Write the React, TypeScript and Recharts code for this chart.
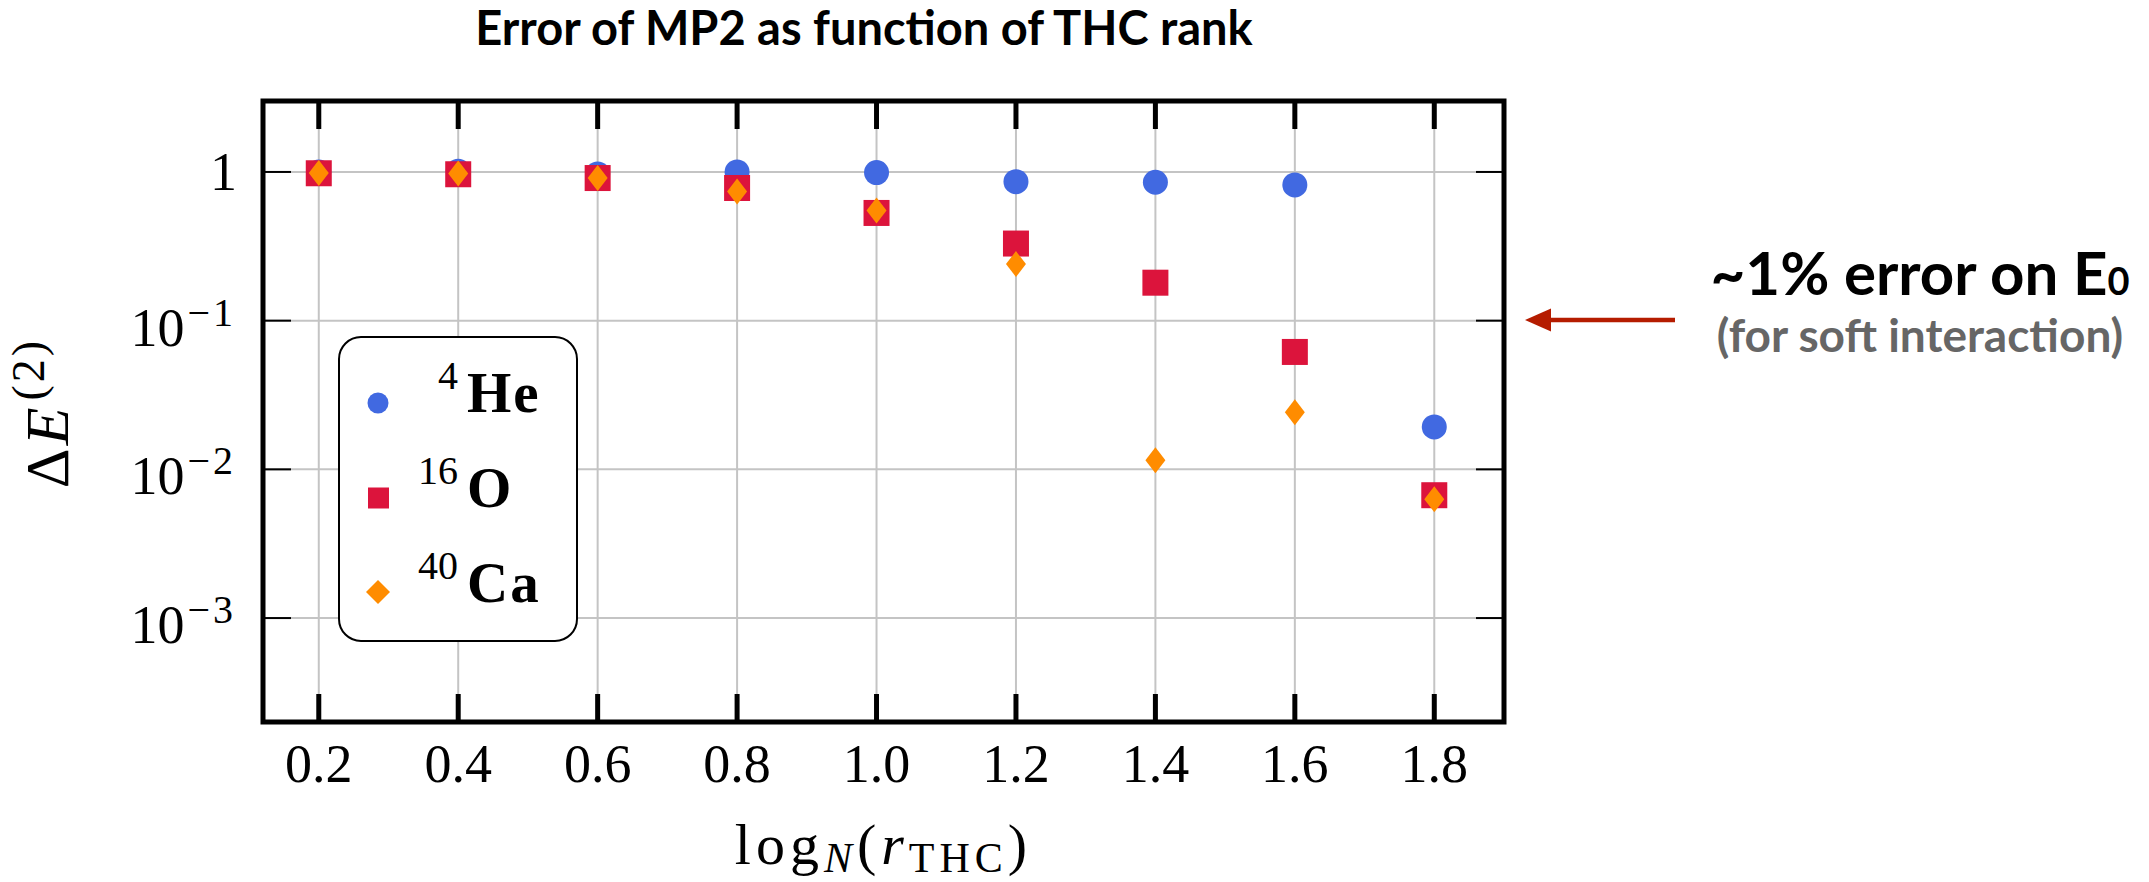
import React from 'react';
import { ScatterChart, Scatter, XAxis, YAxis, CartesianGrid, ReferenceArea, Legend } from 'recharts';

// ---------- data ----------
const rankValues = [0.2, 0.4, 0.6, 0.8, 1.0, 1.2, 1.4, 1.6, 1.8];
const he4Errors = [1.0, 1.01, 0.97, 1.0, 0.99, 0.86, 0.853, 0.818, 0.0193];
const o16Errors = [0.98, 0.965, 0.91, 0.78, 0.53, 0.33, 0.18, 0.0616, 0.0067];
const ca40Errors = [0.985, 0.975, 0.91, 0.74, 0.55, 0.24, 0.0115, 0.0242, 0.0063];

const xTicks = [0.2, 0.4, 0.6, 0.8, 1.0, 1.2, 1.4, 1.6, 1.8];
const yTicks = [0.001, 0.01, 0.1, 1];
const yTickExponents = [-3, -2, -1, 0];
const xDomain = [0.12, 1.9];
const yDomain = [0.0002, 3];

const seriesElements = ['He', 'O', 'Ca'];
const seriesMassNumbers = ['4', '16', '40'];
const seriesColors = ['#4169E1', '#DC143C', '#FF8C00'];

const titleText = 'Error of MP2 as function of THC rank';
const noteMain = '~1% error on E';
const noteSub = '0';
const noteSecond = '(for soft interaction)';

// ---------- layout ----------
const W = 2149;
const H = 882;
const MARGIN = { top: 100, left: 262, right: 644, bottom: 159 };
const MATH = '"Liberation Serif", "Times New Roman", serif';
const SANS = 'Lato, "Open Sans", sans-serif';

const heData = rankValues.map((x, i) => ({ x, y: he4Errors[i] }));
const oData = rankValues.map((x, i) => ({ x, y: o16Errors[i] }));
const caData = rankValues.map((x, i) => ({ x, y: ca40Errors[i] }));

const CircleShape = (p: any) => <circle cx={p.cx} cy={p.cy} r={12.5} fill={seriesColors[0]} />;
const SquareShape = (p: any) => (
  <rect x={p.cx - 13} y={p.cy - 13} width={26} height={26} fill={seriesColors[1]} />
);
const ThinDiamondShape = (p: any) => (
  <polygon
    points={`${p.cx},${p.cy - 13} ${p.cx + 10},${p.cy} ${p.cx},${p.cy + 13} ${p.cx - 10},${p.cy}`}
    fill={seriesColors[2]}
  />
);

const XTickBottom = (p: any) => {
  const { x, y, payload } = p;
  return (
    <g>
      <line x1={x} x2={x} y1={y} y2={y - 28} stroke="#000" strokeWidth={5} />
      <text x={x} y={y + 60} textAnchor="middle" fontFamily={MATH} fontSize={54} fill="#000">
        {Number(payload.value).toFixed(1)}
      </text>
    </g>
  );
};

const XTickTop = (p: any) => {
  const { x, y } = p;
  return <line x1={x} x2={x} y1={y} y2={y + 28} stroke="#000" strokeWidth={5} />;
};

const YTickLeft = (p: any) => {
  const { x, y, payload } = p;
  const idx = yTicks.findIndex((t) => Math.abs(t - payload.value) / t < 1e-6);
  const exp = yTickExponents[idx];
  return (
    <g>
      <line x1={x} x2={x + 28} y1={y} y2={y} stroke="#000" strokeWidth={2} />
      {exp === 0 ? (
        <text x={x - 26} y={y + 18} textAnchor="end" fontFamily={MATH} fontSize={54} fill="#000">
          1
        </text>
      ) : (
        <text x={x - 27} y={y + 25} textAnchor="end" fontFamily={MATH} fontSize={54} fill="#000">
          <tspan>10</tspan>
          <tspan dx={3} dy={-20} fontSize={40} letterSpacing={3}>
            {'\u2212' + String(-exp)}
          </tspan>
        </text>
      )}
    </g>
  );
};

const YTickRight = (p: any) => {
  const { x, y } = p;
  return <line x1={x} x2={x - 28} y1={y} y2={y} stroke="#000" strokeWidth={2} />;
};

const LegendBox = () => {
  const rowY = [67, 162, 256];
  const baseY = [76, 171, 266];
  return (
    <svg width={242} height={308} style={{ display: 'block', overflow: 'visible' }}>
      <rect x={1} y={1} width={238} height={304} rx={22} ry={22} fill="#fff" stroke="#000" strokeWidth={2} />
      <circle cx={40} cy={rowY[0]} r={10.5} fill={seriesColors[0]} />
      <rect x={30} y={rowY[1] - 10.5} width={21} height={21} fill={seriesColors[1]} />
      <polygon
        points={`40,${rowY[2] - 12} 52,${rowY[2]} 40,${rowY[2] + 12} 28,${rowY[2]}`}
        fill={seriesColors[2]}
      />
      {seriesElements.map((el, i) => (
        <g key={el}>
          <text x={120} y={baseY[i] - 23} textAnchor="end" fontFamily={MATH} fontSize={40} fill="#000">
            {seriesMassNumbers[i]}
          </text>
          <text x={129} y={baseY[i]} fontFamily={MATH} fontWeight="bold" fontSize={57} fill="#000" letterSpacing={2}>
            {el}
          </text>
        </g>
      ))}
    </svg>
  );
};

export default function App() {
  return (
    <div style={{ position: 'absolute', left: 0, top: 0, width: W, height: H, background: '#fff' }}>
      <ScatterChart width={W} height={H} margin={MARGIN}>
        <CartesianGrid stroke="#c4c4c4" strokeWidth={2} />
        <XAxis
          type="number"
          dataKey="x"
          domain={xDomain}
          ticks={xTicks}
          allowDataOverflow
          interval={0}
          height={1}
          tickSize={0}
          tickMargin={0}
          axisLine={false}
          tickLine={false}
          tick={(p: any) => <XTickBottom {...p} />}
        />
        <XAxis
          xAxisId="top"
          orientation="top"
          type="number"
          dataKey="x"
          domain={xDomain}
          ticks={xTicks}
          allowDataOverflow
          interval={0}
          height={1}
          tickSize={0}
          tickMargin={0}
          axisLine={false}
          tickLine={false}
          tick={(p: any) => <XTickTop {...p} />}
        />
        <YAxis
          type="number"
          dataKey="y"
          scale="log"
          domain={yDomain}
          ticks={yTicks}
          allowDataOverflow
          interval={0}
          width={1}
          tickSize={0}
          tickMargin={0}
          axisLine={false}
          tickLine={false}
          tick={(p: any) => <YTickLeft {...p} />}
        />
        <YAxis
          yAxisId="right"
          orientation="right"
          type="number"
          dataKey="y"
          scale="log"
          domain={yDomain}
          ticks={yTicks}
          allowDataOverflow
          interval={0}
          width={1}
          tickSize={0}
          tickMargin={0}
          axisLine={false}
          tickLine={false}
          tick={(p: any) => <YTickRight {...p} />}
        />
        <ReferenceArea
          x1={xDomain[0]}
          x2={xDomain[1]}
          y1={yDomain[0]}
          y2={yDomain[1]}
          fill="none"
          fillOpacity={0}
          stroke="#000"
          strokeWidth={5}
          ifOverflow="visible"
        />
        <Scatter name="4He" data={heData} shape={CircleShape} isAnimationActive={false} />
        <Scatter name="16O" data={oData} shape={SquareShape} isAnimationActive={false} />
        <Scatter name="40Ca" data={caData} shape={ThinDiamondShape} isAnimationActive={false} />
        <Legend
          layout="vertical"
          align="center"
          verticalAlign="middle"
          content={() => <LegendBox />}
          wrapperStyle={{ position: 'absolute', left: 338, top: 336, width: 242, height: 308 }}
        />
      </ScatterChart>
      <svg
        width={W}
        height={H}
        style={{ position: 'absolute', left: 0, top: 0, pointerEvents: 'none' }}
      >
        <text x={864} y={45} textAnchor="middle" fontFamily={SANS} fontWeight="bold" fontSize={47} fill="#000">
          {titleText}
        </text>
        <text
          x={68}
          y={413}
          transform="rotate(-90 68 413)"
          textAnchor="middle"
          fontFamily={MATH}
          fontSize={62}
          fill="#000"
          letterSpacing={3}
        >
          <tspan>Δ</tspan>
          <tspan fontStyle="italic">E</tspan>
          <tspan dx={4} dy={-24} fontSize={46}>(2)</tspan>
        </text>
        <text
          x={883.5}
          y={864}
          textAnchor="middle"
          fontFamily={MATH}
          fontSize={58}
          fill="#000"
          letterSpacing={5}
        >
          <tspan>log</tspan>
          <tspan fontStyle="italic" fontSize={42} dy={8}>N</tspan>
          <tspan dy={-8}>(</tspan>
          <tspan fontStyle="italic">r</tspan>
          <tspan fontSize={42} dy={8}>THC</tspan>
          <tspan dy={-8}>)</tspan>
        </text>
        <line x1={1675} y1={320} x2={1545} y2={320} stroke="#b51c00" strokeWidth={4.5} />
        <polygon points="1525,320 1551,308.5 1551,331.5" fill="#b51c00" />
        <text x={1920} y={295} textAnchor="middle" fontFamily={SANS} fontWeight="bold" fontSize={60} fill="#000">
          {noteMain}
          <tspan fontSize={38}>{noteSub}</tspan>
        </text>
        <text x={1920} y={352} textAnchor="middle" fontFamily={SANS} fontWeight="bold" fontSize={46} fill="#666">
          {noteSecond}
        </text>
      </svg>
    </div>
  );
}
